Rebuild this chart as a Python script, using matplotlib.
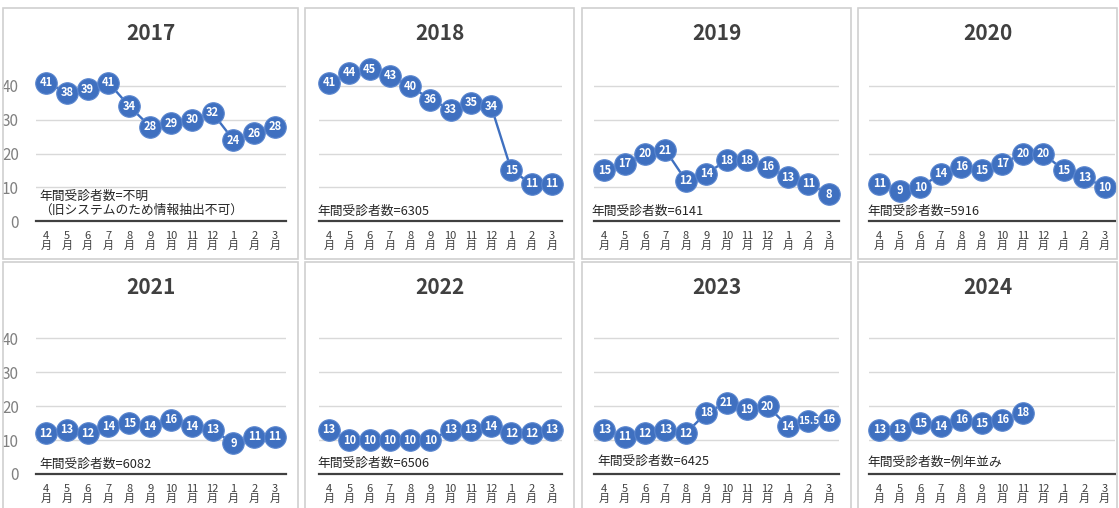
"""Monthly examinee counts, FY2017-FY2024 (small multiples, 2x4)."""
import matplotlib
matplotlib.use("Agg")
import matplotlib.pyplot as plt  # noqa: E402
from matplotlib.patches import Rectangle  # noqa: E402

plt.rcParams["font.family"] = ["Noto Sans CJK JP", "DejaVu Sans"]

W, H = 1119, 508
BLUE = "#3F70C0"
INK = "#404040"
GRID = "#D9D9D9"

months = ["4\n月", "5\n月", "6\n月", "7\n月", "8\n月", "9\n月",
          "10\n月", "11\n月", "12\n月", "1\n月", "2\n月", "3\n月"]
years = ["2017", "2018", "2019", "2020", "2021", "2022", "2023", "2024"]

v2017 = [41, 38, 39, 41, 34, 28, 29, 30, 32, 24, 26, 28]
v2018 = [41, 44, 45, 43, 40, 36, 33, 35, 34, 15, 11, 11]
v2019 = [15, 17, 20, 21, 12, 14, 18, 18, 16, 13, 11, 8]
v2020 = [11, 9, 10, 14, 16, 15, 17, 20, 20, 15, 13, 10]
v2021 = [12, 13, 12, 14, 15, 14, 16, 14, 13, 9, 11, 11]
v2022 = [13, 10, 10, 10, 10, 10, 13, 13, 14, 12, 12, 13]
v2023 = [13, 11, 12, 13, 12, 18, 21, 19, 20, 14, 15.5, 16]
v2024 = [13, 13, 15, 14, 16, 15, 16, 18]

notes = ["年間受診者数=不明\n（旧システムのため情報抽出不可）",
         "年間受診者数=6305", "年間受診者数=6141", "年間受診者数=5916",
         "年間受診者数=6082", "年間受診者数=6506", "年間受診者数=6425",
         "年間受診者数=例年並み"]
series = [v2017, v2018, v2019, v2020, v2021, v2022, v2023, v2024]

# layout in pixels (x0, x1) for columns, (top, bottom) for rows
PANEL_X = [(3, 298), (305, 574), (582, 851), (858, 1117)]
PANEL_Y = [(8, 259), (262, 512)]
AX_X = [(35.6, 285.5), (319, 562), (594, 839), (869, 1115)]
AX_Y = [(59, 221), (311, 474)]   # (top, zero line)
NOTE_XY = [(39, 203), (317, 211), (591, 211), (867, 211),
           (39, 464), (317, 463), (597, 461), (867, 462)]
YMAX = 48


def fx(px):
    return px / W


def fy(py):
    return 1 - py / H


fig = plt.figure(figsize=(W / 100, H / 100), dpi=100)

for i, (yr, vals, note) in enumerate(zip(years, series, notes)):
    r, c = divmod(i, 4)
    px0, px1 = PANEL_X[c]
    pt, pb = PANEL_Y[r]
    fig.patches.append(Rectangle((fx(px0), fy(pb)), fx(px1 - px0), (pb - pt) / H,
                                 transform=fig.transFigure, fill=False,
                                 edgecolor="#D0D0D0", lw=1.2))
    ax0, ax1 = AX_X[c]
    top, zero = AX_Y[r]
    ax = fig.add_axes([fx(ax0), fy(zero), fx(ax1 - ax0), (zero - top) / H])
    x = list(range(len(vals)))
    ax.plot(x, vals, color=BLUE, lw=1.7, marker="o", ms=15.5,
            mfc=BLUE, mec="#5A86CF", mew=0.8, zorder=3, clip_on=False)
    for xi, v in zip(x, vals):
        lab = f"{v:g}"
        ax.text(xi, v, lab, ha="center", va="center", color="white",
                fontsize=8 if len(lab) < 3 else 7.2, fontweight="bold",
                zorder=4)
    ax.set_xlim(-0.5, 11.5)
    ax.set_ylim(0, YMAX)
    ax.set_xticks(range(12))
    ax.set_xticklabels(months, fontsize=8, color=INK, linespacing=1.05)
    ax.tick_params(axis="x", length=0, pad=7)
    ax.set_yticks([0, 10, 20, 30, 40])
    ax.grid(axis="y", color=GRID, lw=1.0)
    ax.set_axisbelow(True)
    if c == 0:
        ax.tick_params(axis="y", length=0, labelsize=11, labelcolor="#808080",
                       pad=12)
    else:
        ax.tick_params(axis="y", length=0, labelleft=False)
    for sp in ("top", "right", "left"):
        ax.spines[sp].set_visible(False)
    ax.spines["bottom"].set_color(INK)
    ax.spines["bottom"].set_linewidth(1.6)
    ax.patch.set_alpha(0)
    fig.text(fx((px0 + px1) / 2), fy(pt + 26), yr, ha="center", va="center",
             fontsize=15, fontweight="bold", color=INK)
    nx, ny = NOTE_XY[i]
    fig.text(fx(nx), fy(ny), note, ha="left", va="center", fontsize=9.2,
             color="#262626", linespacing=1.1)

fig.savefig("out.png", dpi=100)
